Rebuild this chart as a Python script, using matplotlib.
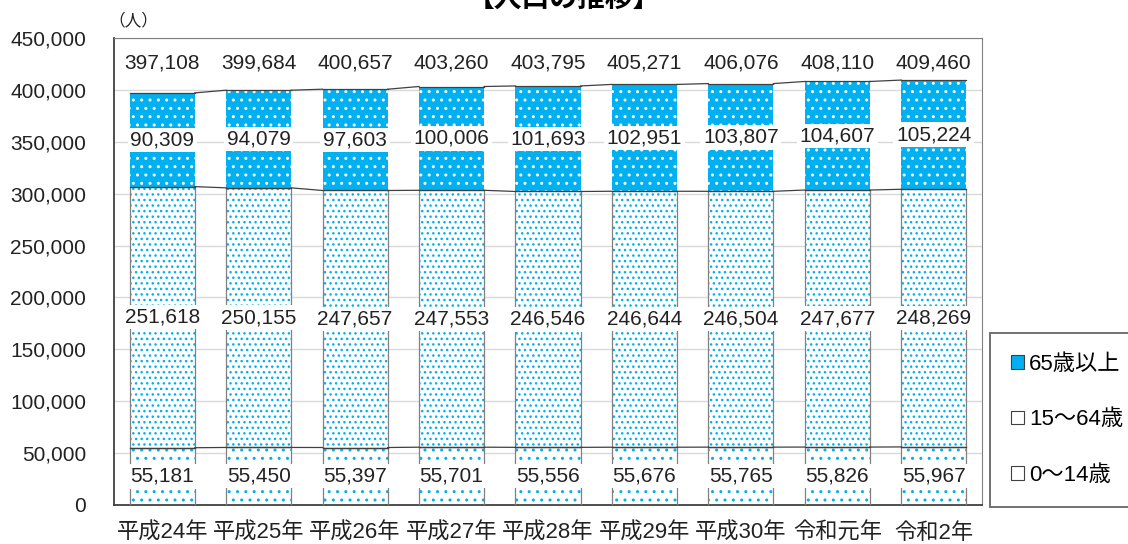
import numpy as np
import matplotlib
matplotlib.use('Agg')
import matplotlib.pyplot as plt
from matplotlib.patches import Patch

plt.rcParams['font.family'] = ['Liberation Sans', 'Noto Sans CJK JP', 'DejaVu Sans']
plt.rcParams['hatch.linewidth'] = 1.0

years = ['平成24年', '平成25年', '平成26年', '平成27年', '平成28年',
         '平成29年', '平成30年', '令和元年', '令和2年']
age_0_14 = [55181, 55450, 55397, 55701, 55556, 55676, 55765, 55826, 55967]
age_15_64 = [251618, 250155, 247657, 247553, 246546, 246644, 246504, 247677, 248269]
age_65 = [90309, 94079, 97603, 100006, 101693, 102951, 103807, 104607, 105224]
totals = [397108, 399684, 400657, 403260, 403795, 405271, 406076, 408110, 409460]

blue = '#00B0F0'
txt = '#222222'
w = 0.675

fig = plt.figure(figsize=(11.28, 5.44), dpi=100)
ax = fig.add_axes([114 / 1128, 39 / 544, 868 / 1128, 467 / 544])

x = np.arange(len(years))
a = np.array(age_0_14)
b = np.array(age_15_64)
c = np.array(age_65)

# hatched fills (edgecolor = hatch colour), outlines drawn separately
ax.bar(x, a, w, color='white', edgecolor=blue, hatch='..', linewidth=0, zorder=2)
ax.bar(x, b, w, bottom=a, color='white', edgecolor=blue, hatch='...', linewidth=0, zorder=2)
ax.bar(x, c, w, bottom=a + b, color=blue, edgecolor='white', hatch='..', linewidth=0, zorder=2)
ax.bar(x, a, w, fill=False, edgecolor='#808080', linewidth=0.9, zorder=3)
ax.bar(x, b, w, bottom=a, fill=False, edgecolor='#808080', linewidth=0.9, zorder=3)

# series lines between bars
for lev in [a, a + b, a + b + c]:
    for i in range(len(x) - 1):
        ax.plot([x[i] + w / 2, x[i + 1] - w / 2], [lev[i], lev[i + 1]],
                color='#404040', lw=0.9, zorder=3)
    for i in range(len(x)):
        ax.plot([x[i] - w / 2, x[i] + w / 2], [lev[i], lev[i]],
                color='#404040', lw=0.9, zorder=3)

box = dict(facecolor='white', edgecolor='none', pad=2)
for i in range(len(x)):
    ax.text(x[i], a[i] / 2, f'{age_0_14[i]:,}', ha='center', va='center',
            fontsize=15, color=txt, bbox=box, zorder=4)
    ax.text(x[i], a[i] + b[i] / 2, f'{age_15_64[i]:,}', ha='center', va='center',
            fontsize=15, color=txt, bbox=box, zorder=4)
    ax.text(x[i], a[i] + b[i] + c[i] / 2, f'{age_65[i]:,}', ha='center', va='center',
            fontsize=15, color=txt, bbox=box, zorder=4)
    ax.text(x[i], 426000, f'{totals[i]:,}', ha='center', va='center',
            fontsize=15, color=txt, zorder=4)

ax.set_xlim(-0.5, len(x) - 0.5)
ax.set_ylim(0, 450000)
ax.set_yticks(np.arange(0, 450001, 50000))
ax.set_yticklabels([f'{v:,}' for v in range(0, 450001, 50000)], fontsize=15, color=txt)
ax.set_xticks(x)
ax.set_xticklabels(years, fontsize=16, color=txt)
ax.tick_params(axis='y', length=0, pad=20)
ax.tick_params(axis='x', length=0, pad=13)
ax.yaxis.grid(True, color='#d9d9d9', lw=1, zorder=0)
ax.set_axisbelow(True)
for s in ['top', 'right']:
    ax.spines[s].set_color('#808080')
for s in ['left', 'bottom']:
    ax.spines[s].set_color('#404040')
    ax.spines[s].set_linewidth(1.3)

fig.text(0.096, 0.962, '（人）', fontsize=12, ha='left', va='center', color=txt)
fig.text(0.5, 1.0, '【人口の推移】', fontsize=20, fontweight='bold',
         ha='center', va='center')

handles = [Patch(facecolor=blue, edgecolor='#404040', linewidth=0.8),
           Patch(facecolor='white', edgecolor='#404040', linewidth=0.8),
           Patch(facecolor='white', edgecolor='#404040', linewidth=0.8)]
leg = fig.legend(handles, ['65歳以上', '15～64歳', '0～14歳'],
                 loc='upper left', bbox_to_anchor=(0.878, 0.388),
                 fontsize=16, handlelength=0.55, handleheight=0.55,
                 handletextpad=0.25, labelspacing=1.55, borderpad=0.95,
                 borderaxespad=0, frameon=True, fancybox=False,
                 edgecolor='#404040')
leg.get_frame().set_linewidth(1.3)

fig.savefig('out.png', dpi=100)
